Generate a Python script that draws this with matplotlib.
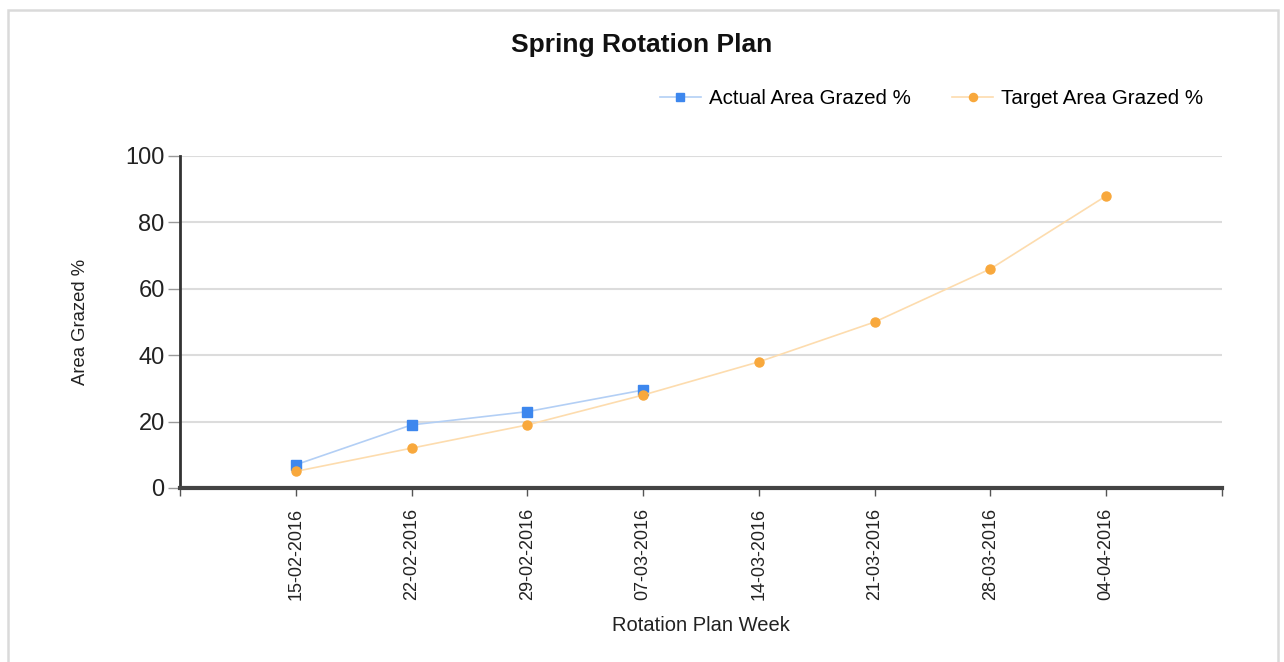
import matplotlib
matplotlib.use("Agg")
import matplotlib.pyplot as plt
import matplotlib.patches as mpatches

plt.rcParams['font.family'] = ['Liberation Sans', 'DejaVu Sans']

weeks = ['15-02-2016', '22-02-2016', '29-02-2016', '07-03-2016',
         '14-03-2016', '21-03-2016', '28-03-2016', '04-04-2016']
actual = [7, 19, 23, 29.5]
target = [5, 12, 19, 28, 38, 50, 66, 88]

fig = plt.figure(figsize=(12.84, 6.62), dpi=100)
ax = fig.add_axes([180/1284, 1-488/662, (1222-180)/1284, (488-156)/662])

# light frame round the whole chart
fig.patches.append(mpatches.Rectangle(
    (8/1284, -0.1), 1270/1284, 1.1 - 10/662,
    transform=fig.transFigure, fill=False, ec='#dadada', lw=1.8))

x = list(range(len(weeks)))
ax.plot(x[:len(actual)], actual, color='#b3cff5', lw=1.2, marker='s',
        markersize=6.5, markerfacecolor='#3d87ee', markeredgecolor='#3d87ee',
        label='Actual Area Grazed %', zorder=3)
ax.plot(x, target, color='#fddcae', lw=1.2, marker='o',
        markersize=6.5, markerfacecolor='#f8a83c', markeredgecolor='#f8a83c',
        label='Target Area Grazed %', zorder=3)

ax.set_xlim(-1, len(weeks))
ax.set_ylim(0, 100)
ax.set_yticks([0, 20, 40, 60, 80, 100])
ax.set_xticks(x)
ax.set_xticklabels(weeks, rotation=90, fontsize=13, color='#222222')
ax.set_xticks([-1, len(weeks)], minor=True)
ax.tick_params(axis='x', which='both', length=6, width=1, color='#555555', pad=8)
ax.tick_params(axis='y', length=9, width=1, color='#999999', labelsize=17,
               pad=2, labelcolor='#222222')

ax.grid(axis='y', color='#dcdcdc', lw=1.5)
ax.set_axisbelow(True)
for s in ['top', 'right']:
    ax.spines[s].set_visible(False)
ax.spines['left'].set_color('#333333')
ax.spines['left'].set_linewidth(2)
ax.spines['bottom'].set_color('#444444')
ax.spines['bottom'].set_linewidth(3)

ax.set_xlabel('Rotation Plan Week', fontsize=14.5, color='#222222', labelpad=12)
ax.set_ylabel('Area Grazed %', fontsize=13.3, color='#222222', labelpad=26)

fig.text(0.5, 1-45/662, 'Spring Rotation Plan', ha='center', va='center',
         fontsize=19, fontweight='bold', color='#111111')

ax.legend(loc='center right', bbox_to_anchor=(1222/1284, 1-99/662),
          bbox_transform=fig.transFigure, ncol=2, frameon=False,
          fontsize=14.8, handlelength=2.0, handletextpad=0.4,
          columnspacing=2.0, markerscale=0.9)

plt.savefig('out.png', dpi=100)
